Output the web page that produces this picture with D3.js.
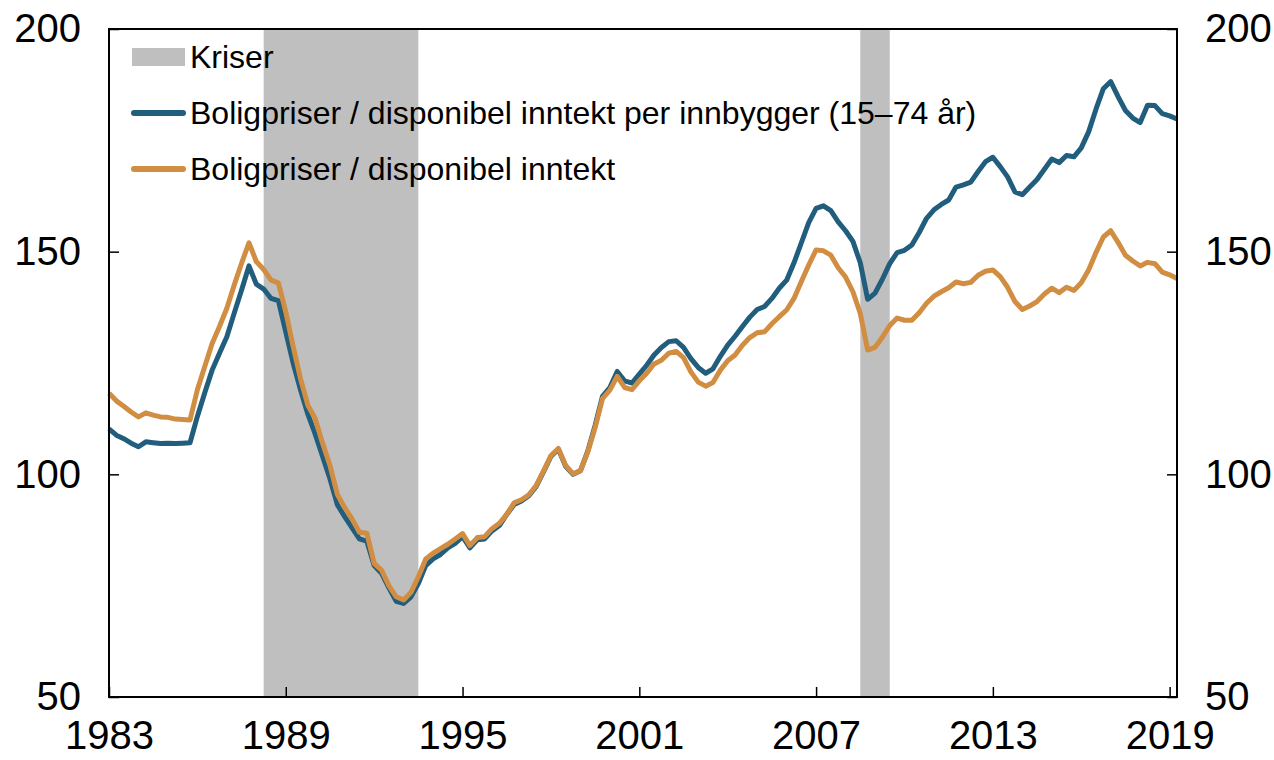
<!DOCTYPE html>
<html>
<head>
<meta charset="utf-8">
<script src="https://cdn.jsdelivr.net/npm/d3@7"></script>
<style>
  body { margin: 0; background: #fff; }
  svg { display: block; font-family: "Liberation Sans", Arial, sans-serif; }
</style>
</head>
<body>
<svg id="chart" width="1274" height="760"></svg>
<script>
// Quarterly series, 1983Q1 - 2019Q2
const startYear = 1983;

const perCapita = [
  110.2, 108.8, 108.0, 107.0, 106.2, 107.3, 107.1, 106.9, 107.0, 106.9, 107.0, 107.1,
  113.0, 118.3, 123.4, 127.2, 130.9, 136.2, 141.4, 146.8, 142.7, 141.6, 139.5, 139.0,
  132.0, 125.0, 119.0, 113.5, 109.0, 104.0, 99.0, 93.2, 90.5, 88.0, 85.5, 85.0,
  79.5, 77.8, 74.5, 71.5, 71.0, 72.5, 75.5, 79.5, 81.0, 82.0, 83.5, 84.5,
  86.0, 83.5, 85.3, 85.5, 87.3, 88.5, 91.0, 93.2, 94.0, 95.2, 97.3, 100.6,
  104.0, 105.7, 101.8, 100.0, 100.8, 105.2, 111.0, 117.5, 119.5, 123.1, 121.0, 120.5,
  122.5, 124.5, 126.8, 128.5, 129.8, 130.0, 128.5, 126.0, 124.0, 122.7, 123.7, 126.5,
  129.0, 131.0, 133.2, 135.3, 137.0, 137.7, 139.5, 141.8, 143.6, 147.5, 152.0, 156.5,
  159.7, 160.3, 159.2, 156.7, 154.7, 152.3, 147.5, 139.3, 140.7, 143.8, 147.3, 149.8,
  150.3, 151.5, 154.3, 157.5, 159.4, 160.6, 161.6, 164.5, 165.0, 165.6, 168.0, 170.2,
  171.2, 169.1, 166.8, 163.4, 162.8, 164.5, 166.2, 168.5, 170.8, 170.0, 171.6, 171.3,
  173.3, 176.9, 182.0, 186.6, 188.2, 184.8, 181.7, 180.0, 179.0, 182.9, 182.8, 181.0,
  180.5, 179.8
];

const total = [
  118.2, 116.5, 115.3, 114.0, 112.9, 113.8, 113.3, 112.9, 112.8, 112.4, 112.3, 112.2,
  119.0, 124.2, 129.4, 133.2, 137.3, 142.5, 147.4, 152.0, 147.8, 146.0, 143.6, 143.0,
  136.5, 128.7, 121.5, 115.5, 112.5, 107.0, 102.0, 95.5, 92.5, 90.0, 87.0, 86.8,
  80.0, 78.5, 75.0, 72.5, 71.8, 73.5, 77.0, 81.0, 82.3, 83.3, 84.3, 85.5,
  86.7, 84.0, 85.8, 86.0, 87.8, 89.0, 91.0, 93.6, 94.3, 95.4, 97.5, 100.8,
  104.2, 105.8, 102.0, 100.1, 100.8, 105.0, 110.5, 117.0, 118.9, 122.0, 119.5, 119.0,
  121.0, 122.7, 124.8, 125.6, 127.2, 127.6, 126.2, 123.0, 120.7, 119.8, 120.6, 123.4,
  125.5, 126.8, 129.0, 130.7, 131.8, 132.0, 133.8, 135.4, 136.9, 139.5, 143.3, 147.0,
  150.4, 150.2, 149.2, 146.4, 144.3, 141.0, 136.1, 127.9, 128.5, 130.8, 133.4, 135.1,
  134.6, 134.6, 136.3, 138.4, 140.0, 141.0, 141.9, 143.2, 142.8, 143.1, 144.7, 145.6,
  145.9, 144.4, 142.0, 138.8, 137.0, 137.8, 138.8, 140.5, 141.8, 140.8, 142.0, 141.3,
  143.0, 145.9, 149.8, 153.3, 154.7, 152.1, 149.2, 147.9, 146.8, 147.6, 147.3, 145.4,
  144.8, 144.0
];

// Crisis periods (decimal years)
const crises = [[1988.25, 1993.5], [2008.5, 2009.5]];

const xTicks = [1983, 1989, 1995, 2001, 2007, 2013, 2019];
const yTicks = [50, 100, 150, 200];

const legendItems = [
  { label: "Kriser", type: "rect", color: "#bfbfbf" },
  { label: "Boligpriser / disponibel inntekt per innbygger (15\u201374 år)", type: "line", color: "#215d7c" },
  { label: "Boligpriser / disponibel inntekt", type: "line", color: "#d18e42" }
];

const M = { left: 109, right: 1177, top: 29, bottom: 697 };

const svg = d3.select("#chart");

const x = d3.scaleLinear()
  .domain([startYear, startYear + (perCapita.length - 1) / 4])
  .range([M.left, M.right]);

const y = d3.scaleLinear().domain([50, 200]).range([M.bottom, M.top]);

// crisis shading
svg.append("g")
  .selectAll("rect")
  .data(crises)
  .join("rect")
  .attr("x", d => x(d[0]))
  .attr("y", M.top)
  .attr("width", d => x(d[1]) - x(d[0]))
  .attr("height", M.bottom - M.top)
  .attr("fill", "#bfbfbf");

// lines
const line = d3.line()
  .x((d, i) => x(startYear + i / 4))
  .y(d => y(d));

svg.append("path")
  .datum(perCapita)
  .attr("d", line)
  .attr("fill", "none")
  .attr("stroke", legendItems[1].color)
  .attr("stroke-width", 5)
  .attr("stroke-linejoin", "round");

svg.append("path")
  .datum(total)
  .attr("d", line)
  .attr("fill", "none")
  .attr("stroke", legendItems[2].color)
  .attr("stroke-width", 5)
  .attr("stroke-linejoin", "round");

// axes (ticks pointing inward)
const tickFont = 40;

const bottomAxis = svg.append("g")
  .attr("transform", `translate(0,${M.bottom})`)
  .call(d3.axisBottom(x).tickValues(xTicks).tickFormat(d3.format("d")).tickSizeInner(-10).tickSizeOuter(0).tickPadding(24));

const leftAxis = svg.append("g")
  .attr("transform", `translate(${M.left},0)`)
  .call(d3.axisLeft(y).tickValues(yTicks).tickSizeInner(-10).tickSizeOuter(0).tickPadding(28));

const rightAxis = svg.append("g")
  .attr("transform", `translate(${M.right},0)`)
  .call(d3.axisRight(y).tickValues(yTicks).tickSizeInner(-10).tickSizeOuter(0).tickPadding(28));

[bottomAxis, leftAxis, rightAxis].forEach(g => {
  g.select(".domain").remove();
  g.selectAll(".tick line").attr("stroke", "#000").attr("stroke-width", 1.5);
  g.selectAll(".tick text")
    .attr("fill", "#000")
    .style("font-size", tickFont + "px")
    .style("font-family", "'Liberation Sans', Arial, sans-serif");
});

// frame
svg.append("rect")
  .attr("x", M.left)
  .attr("y", M.top)
  .attr("width", M.right - M.left)
  .attr("height", M.bottom - M.top)
  .attr("fill", "none")
  .attr("stroke", "#000")
  .attr("stroke-width", 2);

// legend
const legend = svg.append("g").attr("transform", "translate(132,57)");
const rowGap = 56;

legendItems.forEach((item, i) => {
  const row = legend.append("g").attr("transform", `translate(0,${i * rowGap})`);
  if (item.type === "rect") {
    row.append("rect")
      .attr("x", 0).attr("y", -9)
      .attr("width", 53).attr("height", 18)
      .attr("fill", item.color);
  } else {
    row.append("line")
      .attr("x1", 2).attr("x2", 51)
      .attr("y1", 0).attr("y2", 0)
      .attr("stroke", item.color)
      .attr("stroke-width", 6)
      .attr("stroke-linecap", "round");
  }
  row.append("text")
    .attr("x", 58)
    .attr("dy", "0.35em")
    .style("font-size", "32px")
    .attr("fill", "#000")
    .text(item.label);
});
</script>
</body>
</html>
